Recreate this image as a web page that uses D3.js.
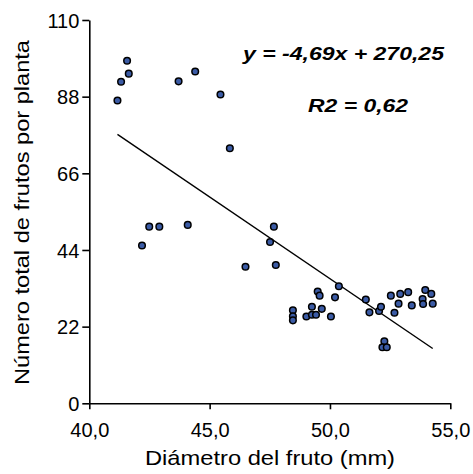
<!DOCTYPE html>
<html><head><meta charset="utf-8">
<script src="https://cdn.jsdelivr.net/npm/d3@7/dist/d3.min.js"></script>
<style>body{margin:0;background:#fff}svg{display:block}</style>
</head><body>
<svg id="c" width="473" height="474"></svg>
<script>
const diam = [41.57,41.64,41.32,41.17,44.40,43.71,45.45,45.84,42.49,42.91,44.09,42.19,46.49,47.67,47.51,47.75,
  48.46,48.46,48.46,49.02,49.25,49.25,49.42,49.49,49.57,49.66,50.04,50.21,50.37,51.49,51.64,52.04,52.12,52.53,
  52.68,52.85,52.92,53.25,53.40,53.96,54.21,53.85,53.87,54.27,52.26,52.18,52.36];
const frutos = [98.3,94.6,92.3,86.9,95.2,92.4,88.6,73.2,50.7,50.7,51.2,45.3,39.2,50.7,46.3,39.7,
  26.7,25.0,23.8,24.9,27.7,25.4,25.4,32.1,30.9,27.1,24.9,30.4,33.6,29.8,26.1,26.5,27.7,30.9,
  26.0,28.6,31.4,31.9,28.1,32.5,31.4,29.9,28.5,28.6,17.8,16.1,16.1];
const xTicks = [40,45,50,55];
const yTicks = [0,22,44,66,88,110];
const slope = -4.69, intercept = 270.25;
const eqText = "y = -4,69x + 270,25";
const r2Text = "R2 = 0,62";
const xLabel = "Diámetro del fruto (mm)";
const yLabel = "Número total de frutos por planta";

const svg = d3.select("#c");
const font = "Arial, 'Liberation Sans', sans-serif";
const x = d3.scaleLinear().domain([40,55]).range([89.3,450.3]);
const y = d3.scaleLinear().domain([0,110]).range([403.3,20]);

const fmt = d => d.toFixed(1).replace(".", ",");
const gx = svg.append("g").attr("transform","translate(0,403.3)")
  .call(d3.axisBottom(x).tickValues(xTicks).tickFormat(fmt).tickSize(6).tickSizeOuter(0));
const gy = svg.append("g").attr("transform","translate(89.3,0)")
  .call(d3.axisLeft(y).tickValues(yTicks).tickSize(7).tickSizeOuter(0));
[gx,gy].forEach(g=>{
  g.selectAll("path,line").attr("stroke","#000").attr("stroke-width",1.6);
  g.selectAll("text").attr("font-family",font).attr("font-size",20).attr("fill","#000");
});
gx.selectAll("text").attr("y",34).attr("dy",0);
gy.selectAll("text").attr("x",-10).attr("dy","0.36em");

// regression line between the extreme observed diameters
const ext = d3.extent(diam);
const lineData = ext.map(v=>[v, slope*v+intercept]);
svg.append("path").datum(lineData)
  .attr("d", d3.line().x(d=>x(d[0])).y(d=>y(d[1])))
  .attr("fill","none").attr("stroke","#000").attr("stroke-width",1.4);

svg.append("g").selectAll("circle").data(diam.map((d,i)=>[d,frutos[i]])).join("circle")
  .attr("cx",d=>x(d[0])).attr("cy",d=>y(d[1])).attr("r",3.3)
  .attr("fill","#3b5ba5").attr("stroke","#000").attr("stroke-width",1.5);

svg.append("text").attr("x",243).attr("y",60)
  .attr("textLength",201).attr("lengthAdjust","spacingAndGlyphs")
  .attr("font-family",font).attr("font-size",19).attr("font-weight","bold").attr("font-style","italic")
  .text(eqText);
svg.append("text").attr("x",308).attr("y",112)
  .attr("textLength",100).attr("lengthAdjust","spacingAndGlyphs")
  .attr("font-family",font).attr("font-size",19).attr("font-weight","bold").attr("font-style","italic")
  .text(r2Text);

svg.append("text").attr("x",145).attr("y",465)
  .attr("textLength",250).attr("lengthAdjust","spacingAndGlyphs")
  .attr("font-family",font).attr("font-size",21).text(xLabel);
svg.append("text").attr("transform","translate(29,385) rotate(-90)")
  .attr("textLength",345).attr("lengthAdjust","spacingAndGlyphs")
  .attr("font-family",font).attr("font-size",21).text(yLabel);
</script>
</body></html>
